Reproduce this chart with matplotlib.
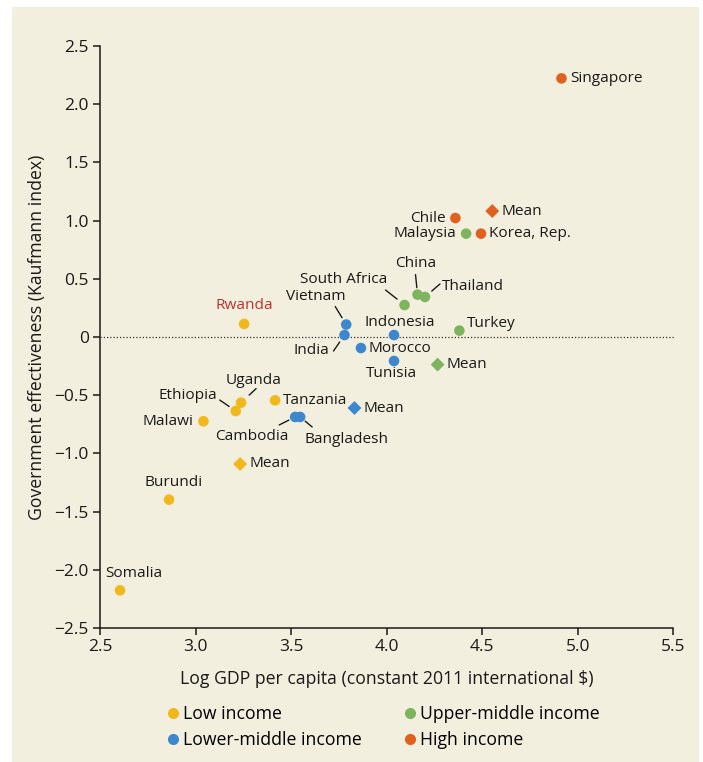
import matplotlib
matplotlib.use("Agg")
import matplotlib.pyplot as plt
from matplotlib.patches import Rectangle
from matplotlib.lines import Line2D

plt.rcParams['font.family'] = ['Open Sans', 'DejaVu Sans']
plt.rcParams['axes.unicode_minus'] = True

# income groups and their countries (log GDP per capita, Kaufmann index)
low_names = ['Rwanda', 'Uganda', 'Ethiopia', 'Tanzania', 'Malawi', 'Burundi', 'Somalia']
low_gdp = [3.254, 3.238, 3.210, 3.416, 3.041, 2.861, 2.605]
low_gov = [0.112, -0.564, -0.636, -0.544, -0.724, -1.397, -2.176]
low_mean = (3.233, -1.091)

lower_mid_names = ['Vietnam', 'India', 'Indonesia', 'Morocco', 'Tunisia', 'Cambodia', 'Bangladesh']
lower_mid_gdp = [3.788, 3.779, 4.038, 3.865, 4.038, 3.521, 3.547]
lower_mid_gov = [0.107, 0.017, 0.017, -0.095, -0.206, -0.687, -0.687]
lower_mid_mean = (3.831, -0.610)

upper_mid_names = ['Malaysia', 'China', 'Thailand', 'South Africa', 'Turkey']
upper_mid_gdp = [4.415, 4.161, 4.200, 4.093, 4.380]
upper_mid_gov = [0.888, 0.364, 0.344, 0.275, 0.055]
upper_mid_mean = (4.266, -0.237)

high_names = ['Singapore', 'Chile', 'Korea, Rep.']
high_gdp = [4.914, 4.359, 4.493]
high_gov = [2.222, 1.022, 0.888]
high_mean = (4.552, 1.082)

group_labels = ['Low income', 'Lower-middle income', 'Upper-middle income', 'High income']
colors = ['#F1B81C', '#3D87CE', '#7DB55F', '#E0601E']

# label placement: (dx, dy) in pixels from the marker, horizontal alignment
label_pos = {
    'Singapore': (9, 0, 'left'), 'Chile': (-10, 0, 'right'), 'Korea, Rep.': (8, 0, 'left'),
    'Malaysia': (-10, 0, 'right'), 'China': (-2, 31, 'center'), 'Thailand': (17, 10, 'left'),
    'South Africa': (-17, 25, 'right'), 'Turkey': (7, 7, 'left'),
    'Vietnam': (-30, 28, 'center'), 'India': (-15, -15, 'right'), 'Indonesia': (6, 13, 'center'),
    'Morocco': (8, 0, 'left'), 'Tunisia': (-3, -13, 'center'),
    'Cambodia': (-43, -20, 'center'), 'Bangladesh': (46, -23, 'center'),
    'Rwanda': (0, 18, 'center'), 'Uganda': (12, 22, 'center'), 'Ethiopia': (-19, 16, 'right'),
    'Tanzania': (8, 0, 'left'), 'Malawi': (-10, 0, 'right'), 'Burundi': (5, 17, 'center'),
    'Somalia': (14, 17, 'center'),
}
# leader lines: far end offset in pixels, gap left at the marker (pixels)
leaders = {
    'Vietnam': (-11, 18, 8), 'India': (-11, -16, 8.5), 'South Africa': (-19, 15, 9.5),
    'China': (-2, 20, 7), 'Thailand': (15, 13, 9), 'Ethiopia': (-16, 11, 8),
    'Uganda': (15, 14, 11), 'Cambodia': (-16, -8, 7), 'Bangladesh': (12, -10, 6.5),
}

W, H = 703, 762
fig = plt.figure(figsize=(W / 100, H / 100), dpi=100)
fig.patch.set_facecolor('white')
bg = '#F3EFDE'
fig.patches.append(Rectangle((12 / W, 0), 687 / W, 755 / H, transform=fig.transFigure,
                             facecolor=bg, edgecolor='none', zorder=-10))

ax = fig.add_axes([100 / W, 1 - 628 / H, 573.5 / W, 582 / H])
ax.set_facecolor(bg)
ax.patch.set_alpha(0)

ax.set_xlim(2.5, 5.5)
ax.set_ylim(-2.5, 2.5)
ax.axhline(0, color='#333333', lw=0.9, ls=(0, (1, 1.6)), zorder=1)

groups = [
    (low_names, low_gdp, low_gov, low_mean),
    (lower_mid_names, lower_mid_gdp, lower_mid_gov, lower_mid_mean),
    (upper_mid_names, upper_mid_gdp, upper_mid_gov, upper_mid_mean),
    (high_names, high_gdp, high_gov, high_mean),
]

txt = '#1a1a1a'
fs = 11.1
for (names, gx, gy, mean), col in zip(groups, colors):
    ax.scatter(gx, gy, s=58, color=col, edgecolors='none', zorder=3)
    ax.scatter([mean[0]], [mean[1]], s=50, marker='D', color=col, edgecolors='none', zorder=3)
    ax.annotate('Mean', (mean[0], mean[1]), xytext=(9, 0), textcoords='offset pixels',
                ha='left', va='center', fontsize=fs, color=txt)
    for n, x, y in zip(names, gx, gy):
        dx, dy, ha = label_pos[n]
        ax.annotate(n, (x, y), xytext=(dx, dy), textcoords='offset pixels',
                    ha=ha, va='center', fontsize=fs,
                    color='#C0302B' if n == 'Rwanda' else txt)
        if n in leaders:
            lx, ly, gap = leaders[n]
            ax.annotate('', (x, y), xytext=(lx, ly), textcoords='offset pixels',
                        arrowprops=dict(arrowstyle='-', color=txt, lw=1,
                                        shrinkA=0, shrinkB=gap * 0.72))

for s in ['top', 'right']:
    ax.spines[s].set_visible(False)
for s in ['left', 'bottom']:
    ax.spines[s].set_linewidth(1.1)
    ax.spines[s].set_color(txt)

ax.set_xticks([2.5, 3.0, 3.5, 4.0, 4.5, 5.0, 5.5])
ax.set_xticklabels(['2.5', '3.0', '3.5', '4.0', '4.5', '5.0', '5.5'])
ax.set_yticks([-2.5, -2.0, -1.5, -1.0, -0.5, 0, 0.5, 1.0, 1.5, 2.0, 2.5])
ax.set_yticklabels(['\u22122.5', '\u22122.0', '\u22121.5', '\u22121.0', '\u22120.5', '0',
                    '0.5', '1.0', '1.5', '2.0', '2.5'])
ax.tick_params(direction='out', length=5, width=1.1, color=txt,
               labelsize=12.5, labelcolor=txt, pad=3)

ax.set_xlabel('Log GDP per capita (constant 2011 international $)', fontsize=12.7,
              color=txt, labelpad=11)
ax.set_ylabel('Government effectiveness (Kaufmann index)', fontsize=12.7,
              color=txt, labelpad=6)

handles = [Line2D([], [], marker='o', ls='none', markersize=8, color=c, markeredgewidth=0)
           for c in colors]
fig.legend(handles, group_labels, ncol=2, frameon=False, fontsize=12.7,
           loc='upper left', bbox_to_anchor=(155 / W, 1 - 696 / H),
           handletextpad=0.1, columnspacing=2.2, labelspacing=0.45,
           handlelength=1.0, borderpad=0)

fig.savefig('out.png', dpi=100, facecolor=fig.get_facecolor())
